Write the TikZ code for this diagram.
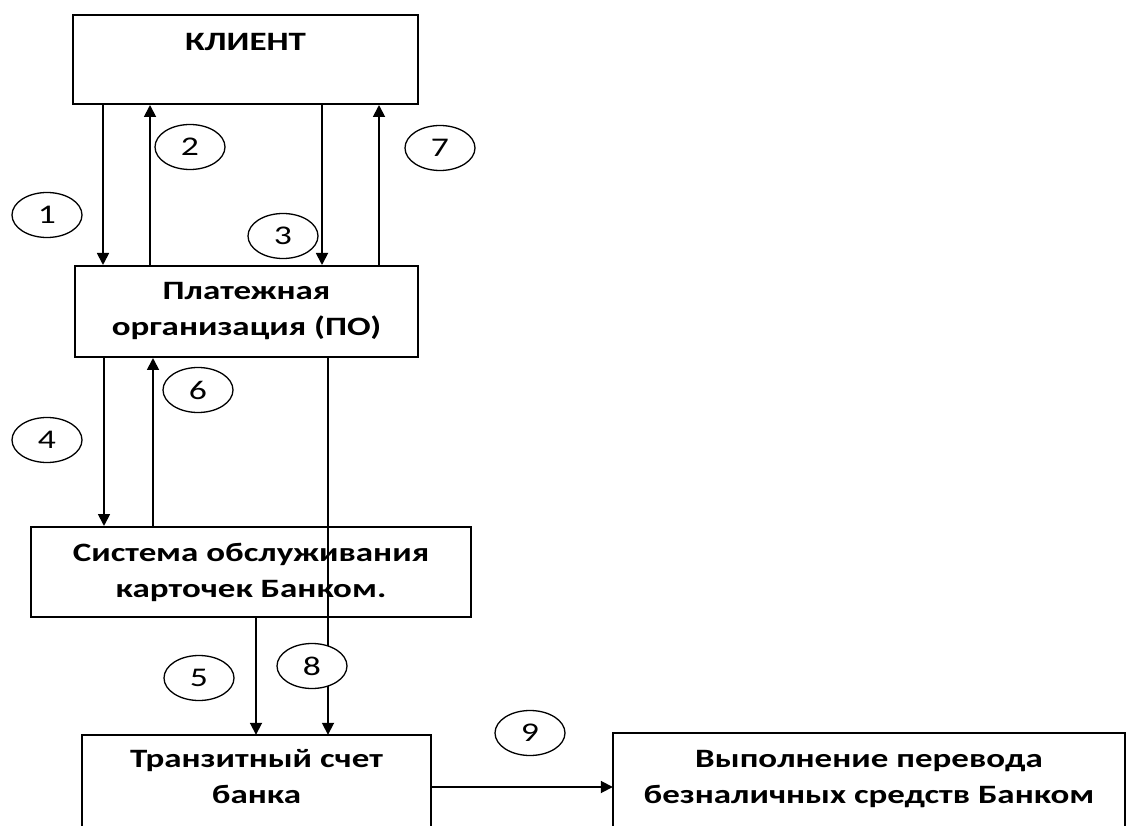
\documentclass[tikz,border=0pt]{standalone}
\usepackage{fontspec}
\newfontfamily\lblfont{Carlito}[FakeStretch=1.32]
\usetikzlibrary{arrows.meta,shapes.geometric}
\begin{document}
\begin{tikzpicture}[x=1pt,y=-1pt,
  box/.style={draw, line width=2pt, rectangle, inner sep=0pt, align=center,
    font=\lblfont\bfseries\fontsize{26.5}{36}\selectfont},
  openbox/.style={draw=none, rectangle, inner sep=0pt, align=center,
    font=\lblfont\bfseries\fontsize{26.5}{36}\selectfont},
  edge/.style={line width=2pt},
  arr/.style={line width=1.8pt, -{Triangle[width=12pt,length=12pt]}},
  num/.style={ellipse, draw, line width=1.3pt, fill=white, minimum width=70pt,
    minimum height=45pt, inner sep=0pt, font=\lblfont\fontsize{27}{27}\selectfont}]
\useasboundingbox[fill=white] (0,0) rectangle (1133,826);
\clip (0,0) rectangle (1133,826);

% boxes
\node[box, minimum width=345pt, minimum height=89pt, text depth=35pt] (client) at (245.5,59.5) {КЛИЕНТ};
\node[box, minimum width=343pt, minimum height=91pt] (po) at (246.5,311.5) {Платежная\\организация (ПО)};
\node[box, minimum width=440pt, minimum height=90pt] (sys) at (251,572) {Система обслуживания\\карточек Банком.};
\node[openbox, minimum width=349pt, minimum height=83pt] (tranz) at (256.5,776.5) {Транзитный счет\\банка};
\node[openbox, minimum width=512pt, minimum height=93pt] (vyp) at (869,779.5) {Выполнение перевода\\безналичных средств Банком};
\draw[edge] ([yshift=-40pt]tranz.south west) -- (tranz.north west) -- (tranz.north east) -- ([yshift=-40pt]tranz.south east);
\draw[edge] ([yshift=-40pt]vyp.south west) -- (vyp.north west) -- (vyp.north east) -- ([yshift=-40pt]vyp.south east);

% connectors
\draw[arr] ([xshift=31pt]client.south west) -- ([xshift=31pt]client.south west |- po.north);
\draw[arr] ([xshift=76pt]po.north west) -- ([xshift=76pt]po.north west |- client.south);
\draw[arr] ([xshift=250pt]client.south west) -- ([xshift=250pt]client.south west |- po.north);
\draw[arr] ([xshift=305pt]po.north west) -- ([xshift=305pt]po.north west |- client.south);
\draw[arr] ([xshift=30pt]po.south west) -- ([xshift=30pt]po.south west |- sys.north);
\draw[arr] ([xshift=123pt]sys.north west) -- ([xshift=123pt]sys.north west |- po.south);
\draw[arr] ([xshift=254pt]po.south west) -- ([xshift=254pt]po.south west |- tranz.north);
\draw[arr] ([xshift=226pt]sys.south west) -- ([xshift=226pt]sys.south west |- tranz.north);
\draw[arr] ([yshift=-10.5pt]tranz.east) -- ([yshift=-10.5pt]tranz.east -| vyp.west);

% step numbers
\node[num] (n1) at (47,215) {1};
\node[num] (n2) at (190,147) {2};
\node[num] (n3) at (283,236) {3};
\node[num] (n7) at (440,148) {7};
\node[num] (n6) at (198,390) {6};
\node[num] (n4) at (47,440) {4};
\node[num] (n5) at (199,678) {5};
\node[num] (n8) at (312,666) {8};
\node[num] (n9) at (530,733) {9};
\end{tikzpicture}
\end{document}
